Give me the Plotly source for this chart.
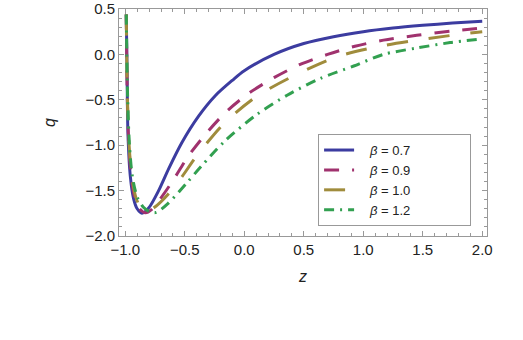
import plotly.graph_objects as go

# beta = 0.7
z_07 = [-0.992, -0.985, -0.978, -0.958, -0.93, -0.90, -0.86, -0.80, -0.72, -0.636, -0.524,
        -0.384, -0.244, -0.10, 0.0, 0.25, 0.5, 0.75, 1.0, 1.25, 1.5, 1.75, 2.0]
q_07 = [0.44, -0.20, -0.86, -1.34, -1.59, -1.70, -1.75, -1.685, -1.50, -1.26, -0.97,
        -0.68, -0.455, -0.285, -0.18, 0.0, 0.12, 0.195, 0.25, 0.29, 0.32, 0.345, 0.365]

# beta = 0.9
z_09 = [-0.992, -0.983, -0.97, -0.95, -0.92, -0.88, -0.83, -0.78, -0.70, -0.60, -0.47,
        -0.32, -0.15, 0.036, 0.25, 0.47, 0.70, 0.93, 1.17, 1.45, 1.73, 2.0]
q_09 = [0.44, -0.50, -1.00, -1.35, -1.58, -1.70, -1.745, -1.71, -1.58, -1.39, -1.12,
        -0.87, -0.63, -0.43, -0.256, -0.11, 0.0, 0.09, 0.157, 0.21, 0.256, 0.29]

# beta = 1.0
z_10 = [-0.992, -0.982, -0.968, -0.945, -0.91, -0.87, -0.82, -0.76, -0.64, -0.52, -0.41,
        -0.17, 0.107, 0.44, 0.78, 1.14, 1.52, 1.9, 2.0]
q_10 = [0.44, -0.50, -1.00, -1.35, -1.58, -1.69, -1.73, -1.69, -1.54, -1.34, -1.135,
        -0.76, -0.46, -0.22, -0.025, 0.09, 0.17, 0.236, 0.25]

# beta = 1.2
z_12 = [-0.992, -0.98, -0.965, -0.94, -0.90, -0.85, -0.79, -0.74, -0.64, -0.48, -0.36,
        -0.16, 0.107, 0.36, 0.64, 0.92, 1.17, 1.45, 1.73, 2.0]
q_12 = [0.44, -0.50, -1.00, -1.35, -1.57, -1.68, -1.735, -1.74, -1.64, -1.41, -1.23,
        -0.95, -0.66, -0.45, -0.264, -0.128, 0.0, 0.07, 0.13, 0.17]

labels = ["0.7", "0.9", "1.0", "1.2"]
colors = ["#3c3ca0", "#a0326e", "#a08c3c", "#32a050"]
dashes = ["solid", "15px,13px", "21px,21px", "10px,6px,2px,6px"]

pad = "\u00a0" * 15  # widen the legend box like the original

fig = go.Figure()
for z, q, lab, color, dash in zip([z_07, z_09, z_10, z_12], [q_07, q_09, q_10, q_12],
                                  labels, colors, dashes):
    fig.add_trace(go.Scatter(
        x=z, y=q, mode="lines", name="\u00a0\u00a0\u00a0<i>β</i> = " + lab + pad,
        line=dict(color=color, width=3, dash=dash, shape="spline", smoothing=0.8),
    ))

axis_common = dict(
    showgrid=False, zeroline=False, automargin=False,
    showline=True, linecolor="#999999", linewidth=1, mirror="ticks",
    ticks="inside", ticklen=5, tickcolor="#999999",
    tickformat=".1f", ticklabeloverflow="allow",
    tickfont=dict(family="Liberation Sans, Arial", size=15, color="#222222"),
)

fig.update_xaxes(
    range=[-1.053, 2.04],
    tickvals=[-1.0, -0.5, 0.0, 0.5, 1.0, 1.5, 2.0],
    minor=dict(dtick=0.1, tick0=0, ticks="inside", ticklen=3, tickcolor="#999999"),
    title=dict(text="<i>z</i>", standoff=13,
               font=dict(family="Liberation Sans, Arial", size=16, color="#222222")),
    **axis_common,
)
fig.update_yaxes(
    range=[-2.0, 0.5],
    tickvals=[-2.0, -1.5, -1.0, -0.5, 0.0, 0.5],
    minor=dict(dtick=0.1, tick0=0, ticks="inside", ticklen=3, tickcolor="#999999"),
    title=dict(text="<i>q</i>", standoff=25,
               font=dict(family="Liberation Sans, Arial", size=16, color="#222222")),
    **axis_common,
)

fig.update_layout(
    width=523, height=340,
    margin=dict(l=119, r=36, t=9, b=104),
    paper_bgcolor="white", plot_bgcolor="white",
    font=dict(family="Liberation Sans, Arial", color="#222222"),
    legend=dict(
        x=0.541, y=0.449, xanchor="left", yanchor="top",
        bgcolor="white", bordercolor="#999999", borderwidth=1,
        font=dict(family="Liberation Sans, Arial", size=13, color="#222222"),
        tracegroupgap=0, itemwidth=30,
    ),
)

# drop the default page margin so the figure sits at the window corner
fig.write_html("out.html", config={"displayModeBar": False},
               post_script="document.body.style.margin='0';")
